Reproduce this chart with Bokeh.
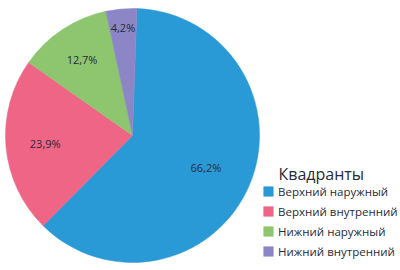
import numpy as np
from bokeh.plotting import figure
from bokeh.models import Range1d, Legend, LegendItem, ColumnDataSource, Label
from bokeh.core.properties import value
from bokeh.embed import file_html
from bokeh.resources import INLINE

categories = ["Верхний наружный", "Верхний внутренний", "Нижний наружный", "Нижний внутренний"]
values = [66.2, 23.9, 12.7, 4.2]
labels = ["66,2%", "23,9%", "12,7%", "4,2%"]
colors = ["#2A9AD6", "#EE6585", "#8DC66F", "#8C86C6"]
legend_title = "Квадранты"

# layout
cx, cy, R = 132, 135, 127
start_offset = np.deg2rad(2.0)
label_r = [0.63, 0.69, 0.72, 0.85]

vals = np.array(values)
frac = vals / vals.sum()
cum = np.concatenate([[0], np.cumsum(frac)]) * 2 * np.pi
starts = np.pi / 2 - start_offset - cum[:-1]
ends = np.pi / 2 - start_offset - cum[1:]
mids = (starts + ends) / 2

p = figure(width=400, height=270, output_backend="svg", toolbar_location=None,
           x_range=Range1d(0, 400), y_range=Range1d(0, 270), min_border=0)
p.axis.visible = False
p.grid.visible = False
p.outline_line_color = None
p.background_fill_color = "white"

renderers = []
for i in range(len(values)):
    src = ColumnDataSource(dict(x=[cx], y=[cy], s=[starts[i]], e=[ends[i]]))
    r = p.wedge(x="x", y="y", radius=R, start_angle="s", end_angle="e", direction="clock",
                fill_color=colors[i], line_color=colors[i], line_width=0.5, source=src)
    renderers.append(r)

lx = cx + np.array(label_r) * R * np.cos(mids)
ly = cy + np.array(label_r) * R * np.sin(mids)
p.text(x=lx, y=ly, text=labels, text_align="center", text_baseline="middle",
       text_font=value("Open Sans"), text_font_size="11px", text_color="#262B3A")

title = Label(x=278, y=97, x_units="screen", y_units="screen", text=legend_title,
              text_font="Open Sans", text_font_size="16px", text_color="#262B3A",
              text_baseline="alphabetic", text_align="left")
p.add_layout(title)

legend = Legend(items=[LegendItem(label=categories[i], renderers=[renderers[i]]) for i in range(len(values))],
                location=(262, 9),
                label_text_font="Open Sans", label_text_font_size="11.5px", label_text_color="#262B3A",
                glyph_width=12, glyph_height=12, label_height=20, spacing=0, label_standoff=4,
                background_fill_alpha=0, border_line_color=None, padding=0, margin=0)
p.add_layout(legend, "center")

open("out.html", "w").write(file_html(p, INLINE))
